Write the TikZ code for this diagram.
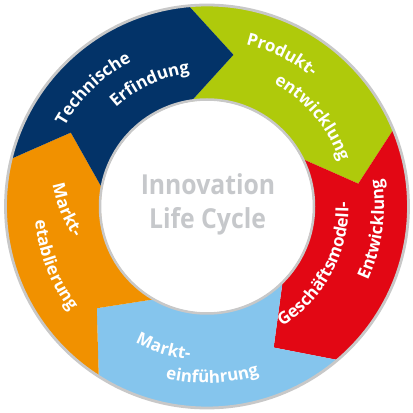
\documentclass[tikz,border=0pt]{standalone}
\usepackage{fontspec}
\setmainfont{Open Sans}
\newfontfamily\osans{Open Sans}
\newfontfamily\osansnarrow{Open Sans}[FakeStretch=0.9]
\usetikzlibrary{decorations.text}
\definecolor{navy}{RGB}{3,51,104}
\definecolor{lime}{RGB}{175,202,11}
\definecolor{signal}{RGB}{226,7,20}
\definecolor{sky}{RGB}{133,197,237}
\definecolor{amber}{RGB}{241,145,0}
\definecolor{rimgray}{RGB}{200,200,200}
\definecolor{txtgray}{RGB}{198,200,203}
\newcommand\lblfont{\osans\bfseries\fontsize{17}{20}\selectfont}
\newcommand\ctrfont{\osansnarrow\bfseries\fontsize{27.5}{32}\selectfont}
\tikzset{
  lbl/.style={decorate, decoration={text along path, text align=center, text color=white, text={|\lblfont|#1}}},
  ctr/.style={text=txtgray, font=\ctrfont, inner sep=0pt, anchor=base},
}
\newcommand\cwtext[4][0,0]{\path[shift={(#1)}, lbl={#4}] ({#3+45}:#2) arc[start angle={#3+45}, end angle={#3-45}, radius=#2];}
\newcommand\ccwtext[4][0,0]{\path[shift={(#1)}, lbl={#4}] ({#3-45}:#2) arc[start angle={#3-45}, end angle={#3+45}, radius=#2];}
\begin{document}
\begin{tikzpicture}[x=1pt,y=1pt]
\useasboundingbox (0,0) rectangle (413,413);
\fill[white] (0,0) rectangle (413,413);
\begin{scope}[shift={(207,206.5)}]
  % segments
  \fill[lime] (95.3:202) arc[start angle=95.3,end angle=22.5,radius=202] -- (8.6:153) -- (26.9:106) arc[start angle=26.9,end angle=98.8,radius=106] -- (80.1:154) -- cycle;
  \fill[signal] (22.5:202) arc[start angle=22.5,end angle=-49.5,radius=202] -- (-64.7:156) -- (-44.4:106) arc[start angle=-44.4,end angle=26.9,radius=106] -- (8.6:153) -- cycle;
  \fill[sky] (-49.5:202) arc[start angle=-49.5,end angle=-122.4,radius=202] -- (-137.3:150) -- (-119.1:106) arc[start angle=-119.1,end angle=-44.4,radius=106] -- (-64.7:156) -- cycle;
  \fill[amber] (237.6:202) arc[start angle=237.6,end angle=166.4,radius=202] -- (151.5:155) -- (170.4:106) arc[start angle=170.4,end angle=240.9,radius=106] -- (222.7:150) -- cycle;
  \fill[navy] (166.4:202) arc[start angle=166.4,end angle=95.3,radius=202] -- (80.1:154) -- (98.8:106) arc[start angle=98.8,end angle=170.4,radius=106] -- (151.5:155) -- cycle;
  % rims
  \draw[rimgray, line width=2.8] (0,0) circle[radius=201.5];
  \fill[white] (0,0) circle[radius=106];
  \draw[rimgray, line width=2.5] (0,0) circle[radius=107];
  % labels
  \cwtext{163.5}{134}{Technische}
  \cwtext{134.5}{115}{Erfindung}
  \cwtext{166.5}{63.7}{Produkt-}
  \cwtext{140}{40.1}{entwicklung}
  \ccwtext{141.5}{-28.1}{Geschäftsmodell-}
  \ccwtext{177}{-7.9}{Entwicklung}
  \ccwtext{154}{-107.1}{Markt-}
  \ccwtext{176.5}{-88.2}{einführung}
  \ccwtext{172.3}{201}{etablierung}
  \ccwtext[-12,48.4]{145}{202}{Markt-}
\end{scope}
\node[ctr] (inno) at (208,218) {Innovation};
\node[ctr] (lifec) at (207.5,184.7) {Life Cycle};
\end{tikzpicture}
\end{document}
